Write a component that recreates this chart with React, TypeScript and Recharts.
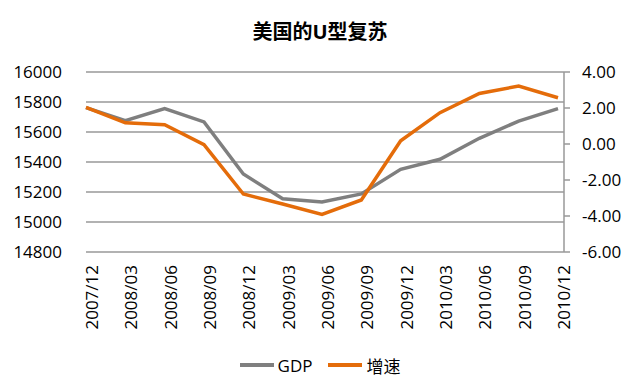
import React from 'react';
import { LineChart, Line, XAxis, YAxis, CartesianGrid, Legend } from 'recharts';

const quarters = [
  '2007/12', '2008/03', '2008/06', '2008/09', '2008/12', '2009/03', '2009/06',
  '2009/09', '2009/12', '2010/03', '2010/06', '2010/09', '2010/12',
];
const gdp = [15762, 15675, 15756, 15667, 15320, 15155, 15133, 15187, 15351, 15418, 15558, 15673, 15756];
const growth = [2.04, 1.18, 1.07, -0.04, -2.78, -3.33, -3.91, -3.11, 0.18, 1.74, 2.81, 3.22, 2.57];
const gdpTicks = [14800, 15000, 15200, 15400, 15600, 15800, 16000];
const growthTicks = [-6, -4, -2, 0, 2, 4];

const GRAY = '#7f7f7f';
const ORANGE = '#e46c0a';
const FONT = '"Open Sans", "Noto Sans CJK SC", sans-serif';

const data = quarters.map((q, i) => ({ quarter: q, GDP: gdp[i], 增速: growth[i] }));

function LegendContent() {
  const items = [
    { name: 'GDP', color: GRAY },
    { name: '增速', color: ORANGE },
  ];
  return (
    <div style={{ display: 'flex', justifyContent: 'center', alignItems: 'center', height: 24, fontFamily: FONT, fontSize: 17, color: '#000' }}>
      {items.map((it) => (
        <div key={it.name} style={{ display: 'flex', alignItems: 'center', margin: '0 8px' }}>
          <span style={{ display: 'inline-block', width: 34, height: 4, background: it.color, marginRight: 4 }} />
          <span>{it.name}</span>
        </div>
      ))}
    </div>
  );
}

export default function App() {
  return (
    <div style={{ position: 'fixed', left: 0, top: 0, width: 640, height: 391, background: '#fff' }}>
      <div
        style={{
          position: 'absolute', top: 16, left: 0, width: 640, textAlign: 'center',
          fontFamily: FONT, fontWeight: 700, fontSize: 20, color: '#000',
        }}
      >
        美国的U型复苏
      </div>
      <LineChart width={640} height={391} data={data} margin={{ top: 72, right: 0, bottom: 0, left: 0 }}>
        <CartesianGrid yAxisId="left" vertical={false} stroke="#999" strokeWidth={1.5} />
        <XAxis
          dataKey="quarter"
          interval={0}
          angle={-90}
          textAnchor="end"
          height={115}
          tickLine={false}
          axisLine={false}
          tickSize={0}
          tickMargin={13}
          padding={{ left: 0, right: 6 }}
          tick={{ fontSize: 17, fill: '#000', fontFamily: FONT }}
        />
        <YAxis
          yAxisId="left"
          orientation="left"
          width={86}
          domain={[14800, 16000]}
          ticks={gdpTicks}
          axisLine={false}
          tickLine={false}
          tickSize={0}
          tickMargin={24}
          tick={{ fontSize: 17, fill: '#000', fontFamily: FONT }}
        />
        <YAxis
          yAxisId="right"
          orientation="right"
          width={76}
          domain={[-6, 4]}
          ticks={growthTicks}
          axisLine={{ stroke: '#999', strokeWidth: 1.5 }}
          tickLine={{ stroke: '#999', strokeWidth: 1.5 }}
          tickSize={6}
          tickMargin={12}
          tickFormatter={(v: number) => v.toFixed(2)}
          tick={{ fontSize: 17, fill: '#000', fontFamily: FONT, textAnchor: 'start' }}
        />
        <Legend verticalAlign="bottom" content={<LegendContent />} wrapperStyle={{ top: 353, left: 0, width: 640, height: 24 }} />
        <Line yAxisId="left" type="linear" dataKey="GDP" stroke={GRAY} strokeWidth={3.5} dot={false} isAnimationActive={false} />
        <Line yAxisId="right" type="linear" dataKey="增速" stroke={ORANGE} strokeWidth={3.5} dot={false} isAnimationActive={false} />
      </LineChart>
    </div>
  );
}
